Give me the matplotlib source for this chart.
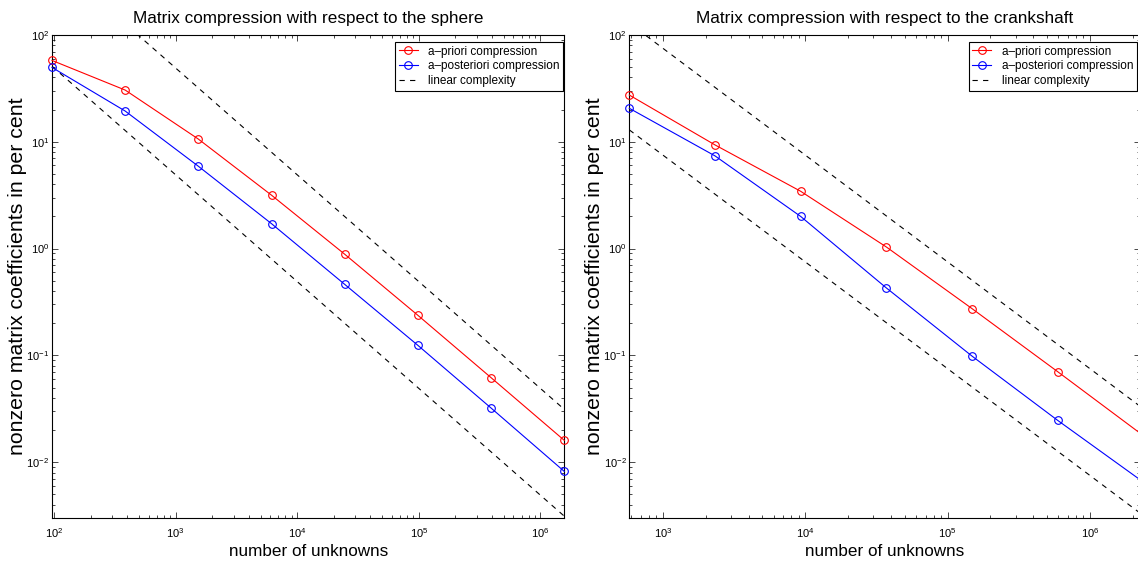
import matplotlib
matplotlib.use("Agg")
import matplotlib.pyplot as plt
from matplotlib.ticker import LogLocator, NullFormatter, LogFormatterSciNotation

# ---------------- data ----------------
sphere_unknowns = [96, 384, 1536, 6144, 24576, 98304, 393216, 1572864]
sphere_apriori = [57.8, 30.5, 10.6, 3.16, 0.885, 0.237, 0.0618, 0.0160]
sphere_aposteriori = [49.7, 19.4, 5.90, 1.71, 0.462, 0.124, 0.0321, 0.00819]
sphere_linear_x = [96, 1572864]
sphere_linear_upper = [510.0, 0.0312]
sphere_linear_lower = [51.0, 0.00312]

crank_unknowns = [580, 2320, 9280, 37120, 148480, 593920, 2375680]
crank_apriori = [27.4, 9.35, 3.44, 1.035, 0.274, 0.0703, 0.0177]
crank_aposteriori = [20.6, 7.38, 2.00, 0.428, 0.0984, 0.0246, 0.0065]
crank_linear_x = [580, 2375680]
crank_linear_upper = [129.3, 0.0316]
crank_linear_lower = [12.93, 0.00316]

titles = ["Matrix compression with respect to the sphere",
          "Matrix compression with respect to the crankshaft"]
xlabel = "number of unknowns"
ylabel = "nonzero matrix coefficients in per cent"
legend_labels = ["a\u2013priori compression", "a\u2013posteriori compression",
                 "linear complexity"]

plt.rcParams.update({
    "font.family": ["Liberation Sans", "DejaVu Sans"],
    "mathtext.fontset": "custom",
    "mathtext.rm": "Liberation Sans",
    "mathtext.it": "Liberation Sans:italic",
    "mathtext.bf": "Liberation Sans:bold",
    "lines.scale_dashes": False,
})

W, H = 1138, 565
fig = plt.figure(figsize=(W / 100, H / 100), dpi=100)


def px_axes(l, t, r, b):
    return [l / W, 1 - b / H, (r - l) / W, (b - t) / H]


# axes boxes in pixels (left, top, right, bottom)
box1 = (52, 35, 564.3, 518)
box2 = (629.3, 35, 1139.5, 518)
ax1 = fig.add_axes(px_axes(*box1))
ax2 = fig.add_axes(px_axes(*box2))

panels = [
    (ax1, box1, 1.0, sphere_unknowns, sphere_apriori, sphere_aposteriori,
     sphere_linear_x, sphere_linear_upper, sphere_linear_lower, (96, 1572864)),
    (ax2, box2, 2.8, crank_unknowns, crank_apriori, crank_aposteriori,
     crank_linear_x, crank_linear_upper, crank_linear_lower, (580, 2.23e6)),
]

for i, (ax, box, legoff, x, apri, apost, lx, lup, llo, xl) in enumerate(panels):
    wpx = box[2] - box[0]
    hpx = box[3] - box[1]
    ax.set_xscale("log")
    ax.set_yscale("log")
    l1, = ax.plot(x, apri, color="red", marker="o", mfc="none", ms=5.5, mew=0.8,
                  lw=0.8, clip_on=False, zorder=3)
    l2, = ax.plot(x, apost, color="blue", marker="o", mfc="none", ms=5.5, mew=0.8,
                  lw=0.8, clip_on=False, zorder=3)
    l3, = ax.plot(lx, lup, color="black", ls="--", dashes=(3.8, 3.8), lw=0.8)
    ax.plot(lx, llo, color="black", ls="--", dashes=(3.8, 3.8), lw=0.8)
    ax.set_xlim(*xl)
    ax.set_ylim(0.003, 100)

    for axis in (ax.xaxis, ax.yaxis):
        axis.set_major_locator(LogLocator(base=10, numticks=20))
        axis.set_minor_locator(LogLocator(base=10, subs=range(2, 10), numticks=20))
        axis.set_minor_formatter(NullFormatter())
        axis.set_major_formatter(LogFormatterSciNotation())
    ax.tick_params(which="both", direction="in", top=True, right=True,
                   width=0.5, labelsize=8)
    ax.tick_params(axis="x", which="both", pad=6)
    ax.tick_params(axis="y", which="both", pad=2)
    ax.tick_params(which="major", length=4)
    ax.tick_params(which="minor", length=2)
    for s in ax.spines.values():
        s.set_linewidth(0.8)

    ax.set_title(titles[i], fontsize=12.3, pad=8.3)
    ax.set_xlabel(xlabel, fontsize=12.3, labelpad=3)
    ax.set_ylabel(ylabel, fontsize=15.3)
    ax.yaxis.set_label_coords(-25.0 / wpx, 0.5)

    leg = ax.legend([l1, l2, l3], legend_labels, loc="upper right",
                    bbox_to_anchor=(1 - legoff / wpx, 1 - 7 / hpx), borderaxespad=0,
                    fontsize=8.5, fancybox=False, framealpha=1, edgecolor="black",
                    handlelength=1.6, handletextpad=0.9, borderpad=0.3,
                    labelspacing=0.25)
    leg.get_frame().set_linewidth(0.8)

fig.savefig("out.png", dpi=100)
